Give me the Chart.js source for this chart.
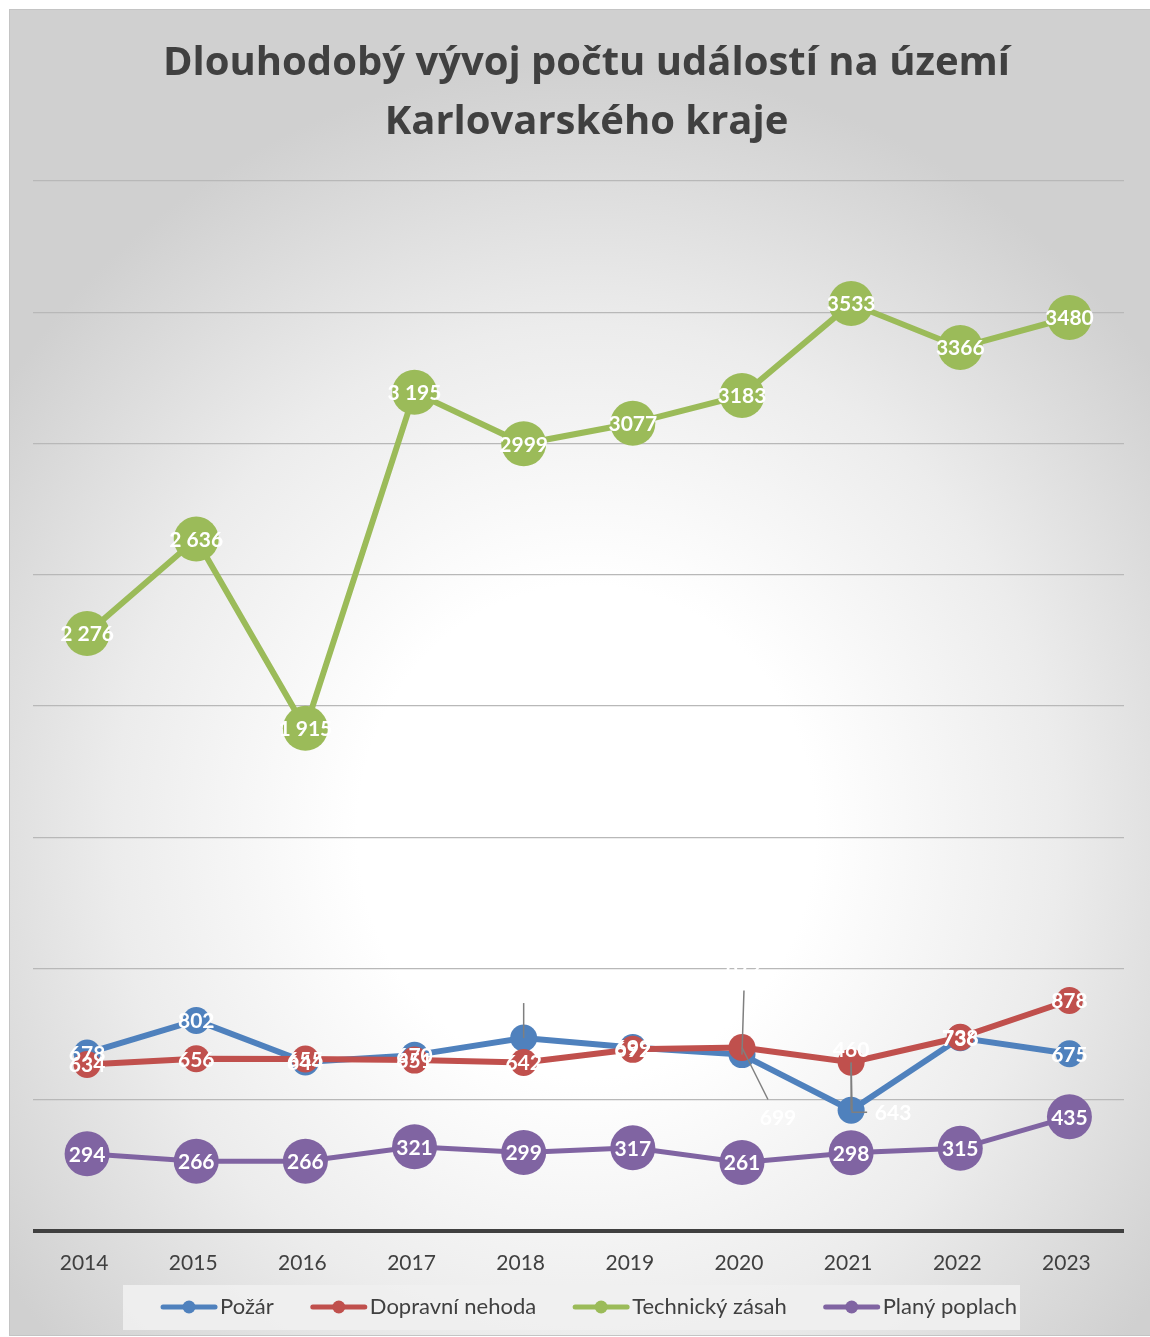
<!DOCTYPE html>
<html lang="cs">
<head>
<meta charset="utf-8">
<title>Dlouhodobý vývoj počtu událostí</title>
<script src="https://cdn.jsdelivr.net/npm/chart.js@4.4.1/dist/chart.umd.min.js"></script>
<style>
  html, body { margin: 0; padding: 0; background: #fff; overflow: hidden; }
  #frame {
    position: absolute; left: 9px; top: 9px;
    width: 1155px; height: 1327px; box-sizing: border-box;
    border: 1px solid #c4c4c4;
    background: radial-gradient(ellipse 62% 58% at 50% 62%, #ffffff 0%, #ffffff 32%, #ececec 66%, #d0d0d0 100%);
  }
  #chartBox { position: absolute; left: 0; top: 0; width: 1153px; height: 1325px; }
</style>
</head>
<body>
<div id="frame"><div id="chartBox"><canvas id="udalostiChart"></canvas></div></div>
<script>
// data
const roky = ["2014", "2015", "2016", "2017", "2018", "2019", "2020", "2021", "2022", "2023"];
const pozar = [678, 802, 644, 670, 735, 699, 672, 460, 736, 675];
const dopravniNehoda = [634, 656, 655, 651, 642, 692, 699, 643, 738, 878];
const technickyZasah = [2276, 2636, 1915, 3195, 2999, 3077, 3183, 3533, 3366, 3480];
const planyPoplach = [294, 266, 266, 321, 299, 317, 261, 298, 315, 435];
const technickyPopisky = ["2 276", "2 636", "1 915", "3 195", "2999", "3077", "3183", "3533", "3366", "3480"];

const FONT = "Lato, 'Open Sans', sans-serif";
const TITLE_FONT = "'Open Sans', Lato, sans-serif";
const TEXT = "#404040";

// labels that were moved away from their point (datasetIndex-pointIndex)
const presunutePopisky = {
    "0-4": { dx: 0, dy: -52, line: [[0, -35]] },
    "0-6": { dx: 2, dy: -87, line: [[2, -64]] },
    "1-6": { dx: 36, dy: 70, line: [[26, 52]] },
    "0-7": { dx: 0, dy: -61, line: [[0, -47]] },
    "1-7": { dx: 42, dy: 50, line: [[1, 50], [16, 50]] }
};

const popiskyPlugin = {
    id: "popisky",
    afterDatasetsDraw(chart) {
        const ctx = chart.ctx;
        ctx.save();
        // leader lines first
        ctx.strokeStyle = "#7f7f7f";
        ctx.lineWidth = 1.5;
        chart.data.datasets.forEach((ds, di) => {
            chart.getDatasetMeta(di).data.forEach((pt, i) => {
                const mv = presunutePopisky[di + "-" + i];
                if (!mv) return;
                ctx.beginPath();
                ctx.moveTo(pt.x, pt.y);
                mv.line.forEach(p => ctx.lineTo(pt.x + p[0], pt.y + p[1]));
                ctx.stroke();
            });
        });
        ctx.fillStyle = "#ffffff";
        ctx.textAlign = "center";
        ctx.textBaseline = "middle";
        ctx.font = "bold 21px " + FONT;
        chart.data.datasets.forEach((ds, di) => {
            chart.getDatasetMeta(di).data.forEach((pt, i) => {
                const mv = presunutePopisky[di + "-" + i] || { dx: 0, dy: 0 };
                const txt = ds.popisky ? ds.popisky[i] : String(ds.data[i]);
                ctx.fillText(txt, pt.x + mv.dx, pt.y + mv.dy + 1);
            });
        });
        ctx.restore();
    }
};

const legendaPlugin = {
    id: "legenda",
    afterDraw(chart) {
        const ctx = chart.ctx;
        ctx.save();
        ctx.fillStyle = "rgba(240,240,240,0.9)";
        ctx.fillRect(113, 1275, 897, 45);
        ctx.font = "22px " + FONT;
        ctx.textBaseline = "middle";
        const y = 1297;
        const lineLen = 56, gap = 3, spacing = 37;
        const widths = chart.data.datasets.map(ds => lineLen + gap + ctx.measureText(ds.label).width);
        const total = widths.reduce((a, b) => a + b, 0) + spacing * (widths.length - 1);
        let x = 579 - total / 2;
        chart.data.datasets.forEach((ds, di) => {
            ctx.strokeStyle = ds.borderColor;
            ctx.lineWidth = 5;
            ctx.lineCap = "round";
            ctx.beginPath();
            ctx.moveTo(x + 2, y);
            ctx.lineTo(x + lineLen - 2, y);
            ctx.stroke();
            ctx.fillStyle = ds.borderColor;
            ctx.beginPath();
            ctx.arc(x + lineLen / 2, y, 6.5, 0, Math.PI * 2);
            ctx.fill();
            ctx.fillStyle = TEXT;
            ctx.textAlign = "left";
            ctx.fillText(ds.label, x + lineLen + gap, y);
            x += widths[di] + spacing;
        });
        ctx.restore();
    }
};

function rada(label, data, color, radius, width, order) {
    return {
        label: label,
        data: data,
        borderColor: color,
        backgroundColor: color,
        pointBackgroundColor: color,
        pointBorderWidth: 0,
        pointRadius: radius,
        pointHoverRadius: radius,
        borderWidth: width,
        tension: 0,
        order: order
    };
}

const datasets = [
    rada("Požár", pozar, "#4f81bd", 13.5, 6, 4),
    rada("Dopravní nehoda", dopravniNehoda, "#c0504d", 13.5, 6, 3),
    rada("Technický zásah", technickyZasah, "#9bbb59", 22.5, 6, 2),
    rada("Planý poplach", planyPoplach, "#8064a2", 22.5, 5, 1)
];
datasets[2].popisky = technickyPopisky;

new Chart(document.getElementById("udalostiChart"), {
    type: "line",
    data: { labels: roky, datasets: datasets },
    plugins: [popiskyPlugin, legendaPlugin],
    options: {
        responsive: true,
        maintainAspectRatio: false,
        animation: false,
        layout: { padding: 0 },
        plugins: {
            legend: { display: false },
            tooltip: { enabled: false },
            title: {
                display: true,
                text: ["Dlouhodobý vývoj počtu událostí na území", "Karlovarského kraje"],
                color: TEXT,
                font: { family: TITLE_FONT, size: 40, weight: "bold", lineHeight: 59 / 40 },
                padding: { top: 24, bottom: 29 }
            }
        },
        scales: {
            x: {
                offset: true,
                grid: { display: false, drawTicks: false },
                border: { display: false },
                ticks: { color: TEXT, font: { family: FONT, size: 21 }, padding: 20, labelOffset: -3 },
                afterFit(s) { s.height = 104; }
            },
            y: {
                min: 0,
                max: 4000,
                ticks: { display: false, stepSize: 500 },
                border: { display: false },
                grid: {
                    drawTicks: false,
                    color: c => c.tick.value === 0 ? "#404040" : "#b8b8b8",
                    lineWidth: c => c.tick.value === 0 ? 4 : 1.3
                },
                afterFit(s) { s.width = 21; }
            },
            y2: {
                position: "right",
                ticks: { display: false },
                grid: { display: false },
                border: { display: false },
                afterFit(s) { s.width = 39; }
            }
        }
    }
});
</script>
</body>
</html>
